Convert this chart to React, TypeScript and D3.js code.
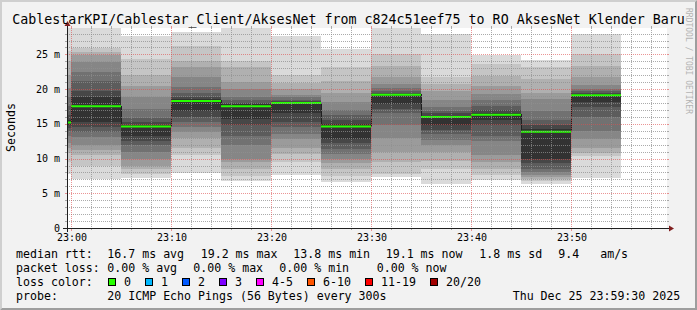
import React from "react";
import * as d3 from "d3";

const W = 697;
const H = 310;

const title = "CablestarKPI/Cablestar_Client/AksesNet from c824c51eef75 to RO AksesNet Klender Baru";
const watermark = "RRDTOOL / TOBI OETIKER";
const yAxisTitle = "Seconds";

// 5-minute steps (start times)
const stepStart = ["22:55", "23:00", "23:05", "23:10", "23:15", "23:20", "23:25", "23:30", "23:35", "23:40", "23:45", "23:50"];
// median rtt per step (ms)
const medianRtt = [15.2, 17.55, 14.6, 18.3, 17.55, 18.0, 14.6, 19.2, 16.0, 16.3, 13.85, 19.1];
// sorted ping rtts per step (ms), 18 values used for the smoke bands
const pingsSorted = [
  [7.8, 9.5, 10.8, 11.5, 12.3, 13.2, 13.9, 14.4, 14.9, 15.5, 16.3, 17.5, 18.8, 20.2, 22.0, 24.0, 25.5, 29.5],
  [7.1, 9.0, 10.5, 11.2, 11.9, 13.1, 13.8, 14.5, 15.25, 18.85, 19.8, 21.2, 22.4, 23.9, 24.85, 25.3, 25.9, 29.5],
  [7.2, 7.8, 8.5, 9.0, 10.0, 11.0, 11.9, 12.6, 13.3, 14.9, 15.3, 15.9, 17.2, 18.85, 20.5, 22.0, 24.4, 27.7],
  [7.9, 10.5, 11.5, 12.9, 13.8, 14.5, 15.25, 16.0, 16.9, 18.6, 18.85, 19.5, 20.3, 21.7, 23.2, 24.1, 26.2, 28.2],
  [6.8, 7.5, 8.5, 9.5, 10.0, 12.0, 13.3, 14.8, 15.7, 17.8, 18.0, 18.4, 18.85, 20.0, 21.0, 23.2, 24.0, 28.8],
  [7.6, 9.5, 10.7, 11.5, 12.85, 13.5, 14.5, 15.25, 16.5, 18.15, 18.3, 18.5, 18.85, 19.2, 20.0, 20.9, 22.0, 27.7],
  [6.6, 7.5, 8.5, 9.3, 10.0, 10.6, 11.4, 12.2, 12.85, 15.0, 15.5, 16.3, 17.0, 18.1, 19.5, 21.2, 23.2, 25.8],
  [7.3, 7.8, 9.5, 11.0, 13.0, 14.8, 16.5, 17.2, 17.9, 19.3, 19.5, 19.8, 20.1, 20.8, 21.7, 23.4, 25.1, 28.8],
  [6.4, 8.5, 9.7, 10.9, 11.9, 12.7, 13.6, 14.1, 14.8, 16.2, 16.5, 16.9, 17.4, 18.4, 19.8, 20.8, 21.7, 27.96],
  [6.9, 7.6, 8.5, 9.5, 10.5, 12.5, 13.3, 14.8, 15.6, 16.6, 17.0, 17.6, 18.4, 19.3, 20.5, 21.9, 23.6, 24.85],
  [6.35, 6.7, 7.0, 7.3, 7.6, 8.0, 8.5, 9.3, 10.0, 14.3, 14.9, 15.6, 16.9, 18.6, 19.5, 21.5, 23.2, 24.2],
  [7.15, 10.3, 10.8, 11.5, 12.85, 14.0, 16.0, 17.4, 18.1, 19.3, 19.5, 19.7, 20.05, 20.6, 21.7, 23.4, 25.1, 27.96],
];

const smokeShades = ["#dadada", "#c5c5c5", "#b0b0b0", "#9b9b9b", "#868686", "#717171", "#5c5c5c", "#474747", "#323232"];

const lossLabels = ["0", "1", "2", "3", "4-5", "6-10", "11-19", "20/20"];
const lossColors = ["#26ff00", "#00b8ff", "#0059ff", "#7e00ff", "#ff00ff", "#ff5500", "#ff0000", "#a10000"];

const legendRtt = ["median rtt:", "16.7 ms avg", "19.2 ms max", "13.8 ms min", "19.1 ms now", "1.8 ms sd", "9.4   am/s"];
const legendRttX = [16, 107.3, 200.7, 293.3, 385.7, 479.3, 558.3];
const legendLoss = ["packet loss:", "0.00 % avg", "0.00 % max", "0.00 % min", "0.00 % now"];
const legendLossX = [16, 107.3, 193.3, 279.3, 376.7];
const probeText = ["probe:", "20 ICMP Echo Pings (56 Bytes) every 300s", "Thu Dec 25 23:59:30 2025"];
const probeX = [16, 107.3, 512.7];

const parseT = (s: string) => {
  const [h, m] = s.split(":").map(Number);
  return new Date(2025, 11, 25, h, m, 0);
};

const X0 = 67;
const X1 = 667;
const Y0 = 228;
const Y1 = 28;
const MONO = "'DejaVu Sans Mono', monospace";

export default function App() {
  const tStart = new Date(2025, 11, 25, 22, 59, 36);
  const tEnd = new Date(2025, 11, 25, 23, 59, 36);
  const x = d3.scaleTime().domain([tStart, tEnd]).range([X0, X1]);
  const y = d3.scaleLinear().domain([0, 28.8]).range([Y0, Y1]);

  const steps = stepStart.map((s, i) => {
    const t0 = parseT(s);
    const t1 = d3.timeMinute.offset(t0, 5);
    return { t0, t1, med: medianRtt[i], p: pingsSorted[i] };
  });

  const minorX = d3.timeMinute.every(2)!.range(tStart, tEnd);
  const majorX = d3.timeMinute.every(10)!.range(tStart, tEnd);
  const minorY = d3.range(1, 29);
  const majorY = d3.range(0, 26, 5);
  const fmt = d3.timeFormat("%H:%M");
  const px = (v: number) => Math.round(v) + 0.5;

  const gridCol = "rgba(143,143,143,0.75)";
  const mgridCol = "rgba(222,79,79,0.6)";

  const medLine = d3
    .line<{ t: Date; v: number }>()
    .x((d) => x(d.t))
    .y((d) => y(d.v))
    .curve(d3.curveStepAfter);
  const medPts = steps.map((s) => ({ t: s.t0, v: s.med }));
  medPts.push({ t: steps[steps.length - 1].t1, v: steps[steps.length - 1].med });

  let lx = 108;
  const lossItems = lossLabels.map((l, i) => {
    const item = { x: lx, label: l, color: lossColors[i] };
    lx += 30 + 7 * l.length;
    return item;
  });

  return (
    <svg
      width={W}
      height={H}
      style={{ position: "fixed", left: 0, top: 0, display: "block" }}
      fontFamily={MONO}
    >
      <defs>
        <clipPath id="plot">
          <rect x={X0} y={Y1} width={X1 - X0} height={Y0 - Y1} />
        </clipPath>
      </defs>
      <rect x={0} y={0} width={W} height={H} fill="#f2f2f2" />
      <polygon points={`0,0 ${W},0 ${W - 2},2 2,2 2,${H - 2} 0,${H}`} fill="#cfcfcf" />
      <polygon points={`${W},0 ${W},${H} 0,${H} 2,${H - 2} ${W - 2},${H - 2} ${W - 2},2`} fill="#9e9e9e" />
      <rect x={X0} y={Y1} width={X1 - X0} height={Y0 - Y1} fill="#ffffff" />

      <g clipPath="url(#plot)" shapeRendering="crispEdges">
        {steps.map((s, si) =>
          smokeShades.map((c, li) => {
            const lo = s.p[li];
            const hi = s.p[17 - li];
            const xa = x(s.t0);
            const xb = x(s.t1);
            return (
              <rect
                key={`s${si}-${li}`}
                x={xa}
                width={xb - xa}
                y={y(hi)}
                height={y(lo) - y(hi)}
                fill={c}
              />
            );
          })
        )}
      </g>
      <g clipPath="url(#plot)">
        <path d={medLine(medPts) || ""} fill="none" stroke="#202020" strokeWidth={1} shapeRendering="crispEdges" />
        {steps.map((s, i) => (
          <line
            key={`m${i}`}
            x1={x(s.t0)}
            x2={x(s.t1)}
            y1={y(s.med)}
            y2={y(s.med)}
            stroke={lossColors[0]}
            strokeWidth={2}
          />
        ))}
      </g>

      {/* minor grid */}
      <g stroke={gridCol} strokeWidth={1} shapeRendering="crispEdges">
        {minorY.filter((v) => v % 5 !== 0).map((v) => (
          <g key={`hy${v}`}>
            <line x1={X0 - 2} x2={X0} y1={px(y(v))} y2={px(y(v))} />
            <line x1={X1} x2={X1 + 2} y1={px(y(v))} y2={px(y(v))} />
            <line x1={X0} x2={X1} y1={px(y(v))} y2={px(y(v))} strokeDasharray="1,1" />
          </g>
        ))}
        {minorX.filter((t) => t.getMinutes() % 10 !== 0).map((t, i) => (
          <g key={`vx${i}`}>
            <line x1={px(x(t))} x2={px(x(t))} y1={Y0} y2={Y0 + 2} />
            <line x1={px(x(t))} x2={px(x(t))} y1={Y1 - 2} y2={Y1} />
            <line x1={px(x(t))} x2={px(x(t))} y1={Y1} y2={Y0} strokeDasharray="1,1" />
          </g>
        ))}
      </g>
      {/* major grid */}
      <g stroke={mgridCol} strokeWidth={1} shapeRendering="crispEdges">
        {majorY.map((v) => (
          <g key={`My${v}`}>
            <line x1={X0 - 2} x2={X0} y1={px(y(v))} y2={px(y(v))} />
            <line x1={X1} x2={X1 + 2} y1={px(y(v))} y2={px(y(v))} />
            <line x1={X0} x2={X1} y1={px(y(v))} y2={px(y(v))} strokeDasharray="1,1" />
          </g>
        ))}
        {majorX.map((t, i) => (
          <g key={`Mx${i}`}>
            <line x1={px(x(t))} x2={px(x(t))} y1={Y0} y2={Y0 + 3} />
            <line x1={px(x(t))} x2={px(x(t))} y1={Y1 - 2} y2={Y1} />
            <line x1={px(x(t))} x2={px(x(t))} y1={Y1} y2={Y0} strokeDasharray="1,1" />
          </g>
        ))}
      </g>

      {/* axes */}
      <g stroke="#1f1f1f" strokeWidth={1} shapeRendering="crispEdges">
        <line x1={X0 - 4} x2={X1 + 4} y1={Y0 + 0.5} y2={Y0 + 0.5} />
        <line x1={X0 + 0.5} x2={X0 + 0.5} y1={Y0 + 4} y2={Y1 - 4} />
      </g>
      <polygon points={`${X1 + 2},${Y0 - 2.5} ${X1 + 2},${Y0 + 3.5} ${X1 + 7},${Y0 + 0.5}`} fill="#801f1f" />
      <polygon points={`${X0 - 2.5},${Y1 - 2} ${X0 + 3.5},${Y1 - 2} ${X0 + 0.5},${Y1 - 7}`} fill="#801f1f" />

      {/* axis labels */}
      <g fontSize={10} fill="#000">
        {majorY.map((v) => (
          <text key={`yl${v}`} x={60} y={y(v) + 3.5} textAnchor="end">
            {v === 0 ? "0" : `${v} m`}
          </text>
        ))}
        {majorX.map((t, i) => (
          <text key={`xl${i}`} x={x(t) + 1} y={241} textAnchor="middle">
            {fmt(t)}
          </text>
        ))}
      </g>
      <text
        transform={`translate(15,127.5) rotate(-90)`}
        textAnchor="middle"
        fontSize={11.6}
        fill="#000"
      >
        {yAxisTitle}
      </text>

      <text x={12.3} y={23.6} fontSize={13.3} fill="#000">
        {title}
      </text>
      <text transform={`translate(685.5,8) rotate(90)`} fontSize={8} fill="#b4b4b4">
        {watermark}
      </text>

      {/* legend */}
      <g fontSize={11.6} fill="#000" style={{ whiteSpace: "pre" }}>
        {legendRtt.map((s, i) => (
          <text key={`lr${i}`} x={legendRttX[i]} y={258} xmlSpace="preserve">
            {s}
          </text>
        ))}
        {legendLoss.map((s, i) => (
          <text key={`ll${i}`} x={legendLossX[i]} y={272} xmlSpace="preserve">
            {s}
          </text>
        ))}
        <text x={16} y={286}>loss color:</text>
        {lossItems.map((it, i) => (
          <g key={`lc${i}`}>
            <rect x={it.x + 0.5} y={278.5} width={7} height={7} fill={it.color} stroke="#000" strokeWidth={1} shapeRendering="crispEdges" />
            <text x={it.x + 16} y={286}>
              {it.label}
            </text>
          </g>
        ))}
        {probeText.map((s, i) => (
          <text key={`lp${i}`} x={probeX[i]} y={300}>
            {s}
          </text>
        ))}
      </g>
    </svg>
  );
}
